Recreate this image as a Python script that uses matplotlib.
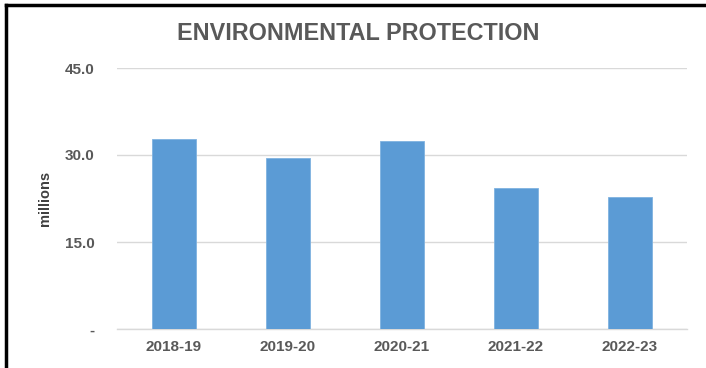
import numpy as np
import matplotlib
matplotlib.use("Agg")
import matplotlib.pyplot as plt
from matplotlib.lines import Line2D

# data
years = ["2018-19", "2019-20", "2020-21", "2021-22", "2022-23"]
values = [32.7, 29.5, 32.5, 24.3, 22.7]
yticks = [0, 15, 30, 45]
ytick_labels = ["-", "15.0", "30.0", "45.0"]

BLUE = "#5B9BD5"
GREY = "#595959"

plt.rcParams["font.family"] = ["Liberation Sans", "DejaVu Sans"]

fig = plt.figure(figsize=(7.06, 3.68), dpi=100)
ax = fig.add_axes([117 / 706, 39 / 368, 570 / 706, 261 / 368])

x = np.arange(len(years))
ax.bar(x, values, width=0.39, color=BLUE, edgecolor="#7FB2E0", linewidth=0.6, zorder=3)

ax.set_xlim(-0.5, len(years) - 0.5)
ax.set_ylim(0, 45)
ax.set_yticks(yticks)
ax.set_yticklabels(ytick_labels)
ax.set_xticks(x)
ax.set_xticklabels(years)
ax.grid(axis="y", color="#D9D9D9", linewidth=1.0, zorder=0)
ax.tick_params(axis="both", length=0, labelsize=11, labelcolor=GREY)
ax.tick_params(axis="y", pad=16)
ax.tick_params(axis="x", pad=8)
for lbl in ax.get_xticklabels() + ax.get_yticklabels():
    lbl.set_fontweight("bold")
for s in ax.spines.values():
    s.set_visible(False)
ax.spines["bottom"].set_visible(True)
ax.spines["bottom"].set_color("#D9D9D9")
ax.spines["bottom"].set_linewidth(1.0)

fig.text(45 / 706, 1 - 198 / 368, "millions", rotation=90, ha="center", va="center",
         fontsize=10.5, fontweight="bold", color="#404040")
fig.text(358 / 706, 1 - 33 / 368, "ENVIRONMENTAL PROTECTION", ha="center", va="center",
         fontsize=16.8, fontweight="bold", color=GREY)

# black frame on the left and top edges
fig.add_artist(Line2D([5.5 / 706, 5.5 / 706], [0, 1 - 5 / 368], color="black", linewidth=2.5))
fig.add_artist(Line2D([5.5 / 706, 1], [1 - 5 / 368, 1 - 5 / 368], color="black", linewidth=2.5))

fig.savefig("out.png", dpi=100)
